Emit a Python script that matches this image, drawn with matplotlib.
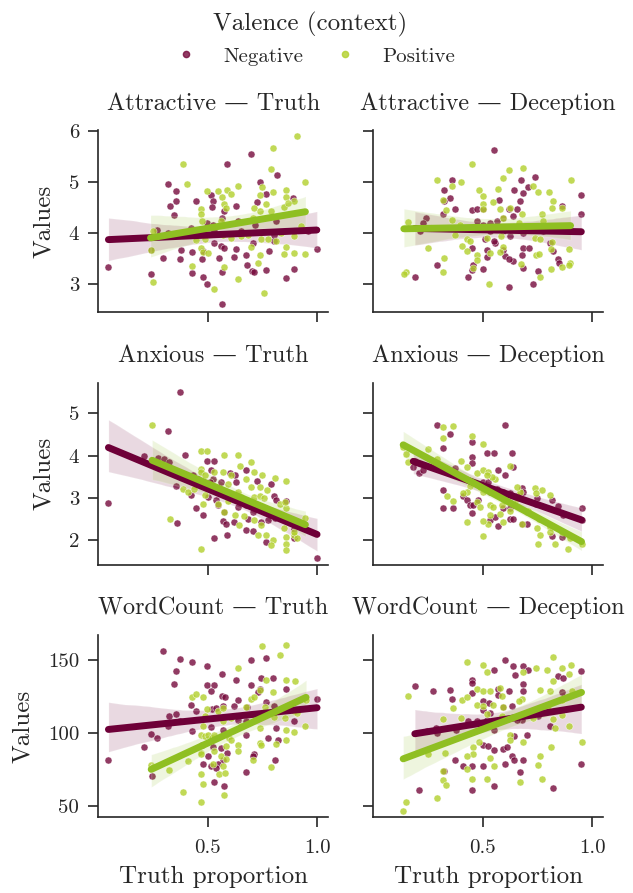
import matplotlib
matplotlib.use("Agg")
import matplotlib.pyplot as plt
import seaborn as sns
from matplotlib.lines import Line2D

sns.set_style("ticks")
plt.rcParams["font.family"] = ["cmr10", "DejaVu Serif"]
plt.rcParams["mathtext.fontset"] = "cm"
plt.rcParams["axes.unicode_minus"] = False

# (truth proportion, value) pairs
att_truth_neg = [(0.047,3.33),(0.698,5.55),(0.587,5.37),(0.816,5.14),(0.318,4.96),(0.357,4.83),(0.736,5.01),(0.356,4.64),
    (0.328,4.53),(0.348,4.36),(0.447,4.64),(0.515,4.76),(0.523,4.63),(0.518,4.51),(0.628,4.54),(0.767,4.78),(0.725,4.61),
    (0.889,4.70),(0.576,4.43),(0.565,4.30),(0.637,4.25),(0.498,4.20),(0.523,4.17),(0.269,4.07),(0.318,4.01),(0.424,4.11),
    (0.454,4.04),(0.530,4.04),(0.652,4.04),(0.713,4.17),(0.812,4.24),(0.804,3.97),(0.895,4.04),(0.956,4.04),(0.242,3.68),
    (0.295,3.51),(0.378,3.68),(0.427,3.63),(0.375,3.49),(0.477,3.66),(0.474,3.49),(0.527,3.81),(0.558,3.76),(0.573,3.72),
    (0.629,3.70),(0.619,3.53),(0.549,3.51),(0.676,3.57),(0.707,3.81),(0.777,3.66),(0.804,3.84),(0.997,3.69),(0.239,3.20),
    (0.427,3.23),(0.477,3.15),(0.497,3.01),(0.564,3.25),(0.678,3.38),(0.701,3.26),(0.710,3.24),(0.766,3.28),(0.857,3.12),
    (0.895,3.30),(0.567,2.62)]
att_truth_pos = [(0.906,5.91),(0.796,5.68),(0.386,5.36),(0.786,5.26),(0.406,4.96),(0.497,4.83),(0.546,4.83),(0.588,4.86),
    (0.606,4.78),(0.637,4.92),(0.565,4.71),(0.576,4.58),(0.470,4.47),(0.467,4.37),(0.473,4.24),(0.558,4.24),(0.746,4.91),
    (0.737,4.75),(0.798,4.82),(0.857,4.86),(0.856,4.71),(0.895,4.63),(0.767,4.57),(0.710,4.49),(0.740,4.43),(0.789,4.43),
    (0.847,4.51),(0.865,4.60),(0.945,5.01),(0.249,4.05),(0.485,3.88),(0.447,3.86),(0.568,3.97),(0.606,3.91),(0.652,3.94),
    (0.682,3.97),(0.743,3.88),(0.774,3.88),(0.812,3.84),(0.833,4.01),(0.895,3.95),(0.926,4.14),(0.239,3.68),(0.470,3.71),
    (0.477,3.64),(0.500,3.61),(0.698,3.74),(0.736,3.58),(0.857,3.74),(0.847,3.59),(0.895,3.61),(0.945,3.59),(0.728,3.41),
    (0.427,3.35),(0.576,3.33),(0.248,3.05),(0.637,3.11),(0.527,2.91),(0.758,2.82),(0.584,4.50),(0.705,4.30)]

att_dec_neg = [(0.552,5.64),(0.360,5.05),(0.324,4.85),(0.351,4.70),(0.324,4.63),(0.372,4.47),(0.321,4.37),(0.242,4.30),
    (0.229,4.20),(0.214,4.04),(0.267,4.11),(0.451,4.45),(0.473,4.47),(0.503,4.47),(0.576,4.66),(0.619,4.47),(0.655,4.47),
    (0.643,4.86),(0.682,4.80),(0.673,5.05),(0.670,4.63),(0.707,4.91),(0.740,5.11),(0.594,4.30),(0.640,4.34),(0.564,4.24),
    (0.533,4.20),(0.503,4.17),(0.473,4.24),(0.594,4.04),(0.625,3.94),(0.533,4.04),(0.511,3.88),(0.556,3.81),(0.521,3.68),
    (0.518,3.53),(0.552,3.84),(0.450,3.71),(0.454,3.37),(0.450,3.28),(0.435,3.15),(0.503,3.30),(0.602,3.55),(0.594,3.68),
    (0.640,3.46),(0.622,3.49),(0.685,3.72),(0.679,3.58),(0.713,3.71),(0.685,3.32),(0.754,3.26),(0.731,3.01),(0.622,2.94),
    (0.807,3.81),(0.819,3.66),(0.842,3.49),(0.850,3.41),(0.860,4.53),(0.950,4.75),(0.950,4.37),(0.777,4.04),(0.290,3.38),
    (0.191,3.15),(0.685,4.01)]
att_dec_pos = [(0.451,5.37),(0.290,5.05),(0.400,5.01),(0.622,5.24),(0.682,5.28),(0.591,5.09),(0.482,4.86),(0.503,4.73),
    (0.503,4.57),(0.500,4.47),(0.549,4.62),(0.571,4.87),(0.731,4.93),(0.754,4.81),(0.801,4.81),(0.819,4.64),(0.816,4.50),
    (0.901,5.05),(0.860,4.50),(0.772,4.37),(0.777,4.24),(0.678,4.37),(0.667,4.20),(0.579,4.47),(0.594,4.30),(0.625,4.49),
    (0.359,4.93),(0.321,4.66),(0.333,4.45),(0.359,4.27),(0.397,4.17),(0.161,4.22),(0.374,3.97),(0.427,3.88),(0.442,3.84),
    (0.404,3.76),(0.430,3.66),(0.473,3.58),(0.473,3.48),(0.521,3.91),(0.582,3.94),(0.594,3.74),(0.579,3.64),(0.739,3.91),
    (0.761,3.89),(0.815,3.83),(0.812,3.70),(0.892,3.70),(0.742,3.58),(0.755,3.60),(0.252,3.71),(0.324,3.51),(0.321,3.25),
    (0.153,3.25),(0.141,3.20),(0.530,3.01),(0.673,3.39),(0.761,3.15),(0.812,3.30),(0.860,3.33),(0.898,3.41),(0.892,3.37),
    (0.457,3.32),(0.533,3.61)]

anx_truth_neg = [(0.375,5.49),(0.318,4.59),(0.047,2.89),(0.397,4.02),(0.208,3.98),(0.272,3.94),(0.299,3.91),(0.321,3.84),
    (0.356,3.28),(0.432,3.55),(0.424,3.07),(0.447,2.76),(0.477,2.60),(0.497,3.86),(0.527,3.88),(0.515,3.67),(0.523,3.44),
    (0.508,3.37),(0.561,3.37),(0.599,3.59),(0.622,3.55),(0.629,3.37),(0.675,3.65),(0.725,3.41),(0.786,3.33),(0.500,3.02),
    (0.538,2.94),(0.546,2.84),(0.576,2.67),(0.568,2.45),(0.584,2.39),(0.619,2.42),(0.637,2.78),(0.675,2.82),(0.705,2.67),
    (0.685,2.51),(0.675,2.24),(0.705,2.21),(0.743,2.42),(0.774,2.47),(0.807,2.53),(0.804,3.04),(0.812,2.94),(0.857,2.92),
    (0.842,2.51),(0.895,2.27),(0.892,2.05),(0.530,2.04),(0.588,2.13),(0.360,2.41),(0.767,1.95),(0.998,1.57),(0.743,2.75),
    (0.622,2.98),(0.454,3.45)]
anx_truth_pos = [(0.246,4.71),(0.467,4.11),(0.497,4.10),(0.576,4.02),(0.637,4.02),(0.647,3.76),(0.695,3.84),(0.467,3.69),
    (0.470,3.61),(0.485,3.53),(0.530,3.61),(0.568,3.61),(0.606,3.53),(0.675,3.45),(0.710,3.61),(0.748,3.55),(0.807,3.48),
    (0.857,3.39),(0.591,3.33),(0.637,3.14),(0.698,3.25),(0.736,3.25),(0.771,3.18),(0.386,3.22),(0.409,3.14),(0.439,3.22),
    (0.485,3.06),(0.477,2.86),(0.546,2.86),(0.591,2.92),(0.652,3.02),(0.710,3.02),(0.740,3.04),(0.758,3.00),(0.827,2.86),
    (0.857,2.76),(0.850,2.90),(0.576,2.67),(0.622,2.60),(0.640,2.35),(0.667,2.57),(0.710,2.47),(0.728,2.12),(0.743,2.35),
    (0.766,2.13),(0.796,2.00),(0.789,1.88),(0.847,2.29),(0.857,2.08),(0.895,2.12),(0.907,2.04),(0.945,2.53),(0.857,1.90),
    (0.857,1.76),(0.327,2.49),(0.467,1.79),(0.895,2.20)]

anx_dec_neg = [(0.290,4.72),(0.351,4.51),(0.321,4.17),(0.602,4.71),(0.450,4.31),(0.453,3.96),(0.450,3.83),(0.518,4.05),
    (0.552,4.05),(0.632,4.05),(0.640,3.73),(0.571,3.67),(0.602,3.55),(0.191,3.88),(0.184,3.74),(0.211,3.59),(0.229,3.65),
    (0.374,3.70),(0.318,3.18),(0.321,2.75),(0.363,2.76),(0.412,3.04),(0.427,2.94),(0.442,2.82),(0.457,2.84),(0.450,2.65),
    (0.480,2.94),(0.503,3.37),(0.526,3.37),(0.511,3.25),(0.533,3.14),(0.564,3.22),(0.594,3.14),(0.625,3.12),(0.678,3.23),
    (0.682,3.14),(0.655,3.04),(0.533,2.47),(0.556,2.55),(0.571,2.34),(0.625,2.51),(0.640,2.49),(0.678,2.39),(0.701,2.39),
    (0.746,3.00),(0.743,2.86),(0.815,2.96),(0.845,2.80),(0.865,2.60),(0.951,2.75),(0.951,2.47),(0.815,2.09),(0.860,2.08),
    (0.594,2.75),(0.625,2.76)]
anx_dec_pos = [(0.321,4.67),(0.363,4.69),(0.321,4.42),(0.451,4.47),(0.503,4.27),(0.138,4.20),(0.153,4.04),(0.252,4.16),
    (0.290,3.92),(0.161,3.84),(0.400,3.86),(0.427,3.74),(0.473,3.59),(0.500,3.65),(0.526,3.62),(0.556,3.45),(0.541,3.49),
    (0.625,3.76),(0.442,3.29),(0.427,3.14),(0.412,3.12),(0.488,3.25),(0.503,3.14),(0.473,2.90),(0.488,2.78),(0.533,2.82),
    (0.587,2.84),(0.549,2.78),(0.533,2.60),(0.526,2.39),(0.594,2.43),(0.579,2.63),(0.625,2.68),(0.381,3.53),(0.336,3.04),
    (0.363,2.92),(0.430,2.43),(0.500,2.45),(0.670,3.14),(0.655,2.98),(0.708,2.68),(0.678,2.39),(0.739,3.23),(0.772,3.18),
    (0.807,3.06),(0.743,3.12),(0.758,2.51),(0.746,2.29),(0.807,2.31),(0.761,2.13),(0.807,2.20),(0.860,2.20),(0.898,2.04),
    (0.891,1.80),(0.951,1.90),(0.830,1.92),(0.751,1.90),(0.503,2.10),(0.701,2.67),(0.655,3.25),(0.518,3.53)]

wc_truth_neg = [(0.047,81.7),(0.295,156.4),(0.375,150.7),(0.427,148.9),(0.356,142.7),(0.497,145.7),(0.565,140.6),
    (0.698,149.8),(0.766,151.6),(0.345,133.8),(0.497,132.6),(0.527,132.6),(0.515,128.5),(0.565,125.6),(0.579,124.7),
    (0.637,122.8),(0.628,136.5),(0.695,132.9),(0.743,137.7),(0.798,137.7),(0.737,130.1),(0.728,127.9),(0.857,130.4),
    (0.424,119.4),(0.447,114.8),(0.518,116.4),(0.538,117.1),(0.568,118.7),(0.619,118.3),(0.679,117.8),(0.766,121.0),
    (0.804,118.7),(0.998,123.5),(0.325,111.4),(0.356,113.0),(0.375,108.0),(0.318,104.6),(0.239,99.5),(0.269,96.6),
    (0.207,90.4),(0.427,101.6),(0.515,104.1),(0.568,102.3),(0.629,111.4),(0.637,109.1),(0.675,98.9),(0.675,108.0),
    (0.774,96.6),(0.809,103.4),(0.819,95.0),(0.895,108.0),(0.473,92.0),(0.523,90.4),(0.561,89.7),(0.588,86.3),
    (0.568,81.7),(0.500,84.5),(0.477,78.8),(0.515,77.2),(0.546,79.0),(0.538,76.0),(0.710,85.8),(0.707,84.5),
    (0.807,81.7),(0.675,73.3),(0.527,66.4),(0.576,63.5),(0.246,70.3)]
wc_truth_pos = [(0.746,159.4),(0.857,160.5),(0.827,153.7),(0.637,144.5),(0.767,136.5),(0.857,136.5),(0.898,135.4),
    (0.737,129.7),(0.798,127.9),(0.698,123.3),(0.710,124.7),(0.427,124.7),(0.447,126.9),(0.477,124.4),(0.497,116.4),
    (0.546,114.8),(0.568,117.1),(0.675,117.8),(0.763,117.8),(0.804,111.0),(0.853,110.3),(0.895,114.8),(0.907,113.7),
    (0.948,122.8),(0.485,111.4),(0.477,104.6),(0.568,108.0),(0.606,110.3),(0.652,104.6),(0.736,103.4),(0.857,102.3),
    (0.895,100.5),(0.945,104.6),(0.470,98.9),(0.485,97.7),(0.503,98.9),(0.518,96.6),(0.530,98.9),(0.596,96.6),
    (0.606,95.0),(0.584,91.3),(0.637,92.0),(0.637,87.4),(0.736,93.2),(0.743,92.0),(0.812,92.7),(0.857,95.4),
    (0.470,86.3),(0.467,85.2),(0.527,87.4),(0.561,84.0),(0.584,82.2),(0.523,79.0),(0.568,77.2),(0.549,71.9),
    (0.579,72.6),(0.467,71.5),(0.477,65.3),(0.386,59.4),(0.467,52.5),(0.576,57.3),(0.705,81.7),(0.789,76.7),
    (0.325,74.4),(0.242,78.3),(0.248,76.5),(0.409,80.6)]

wc_dec_neg = [(0.191,132.4),(0.272,128.8),(0.351,129.7),(0.359,123.5),(0.450,136.5),(0.453,134.2),(0.450,127.4),
    (0.552,143.4),(0.602,150.2),(0.640,145.7),(0.682,145.7),(0.649,140.0),(0.708,143.4),(0.682,133.8),(0.682,128.5),
    (0.622,128.8),(0.571,130.4),(0.571,126.3),(0.500,122.1),(0.530,120.5),(0.503,116.0),(0.533,113.7),(0.594,117.8),
    (0.632,118.7),(0.678,111.4),(0.678,108.7),(0.655,109.1),(0.754,111.4),(0.860,127.9),(0.845,138.8),(0.868,137.7),
    (0.950,142.7),(0.807,105.0),(0.435,108.0),(0.473,108.0),(0.518,109.1),(0.287,103.4),(0.245,101.1),(0.290,100.0),
    (0.378,102.3),(0.552,101.8),(0.643,97.7),(0.701,98.9),(0.503,92.0),(0.526,90.9),(0.552,88.1),(0.594,89.0),
    (0.610,90.0),(0.632,84.0),(0.643,81.7),(0.682,81.7),(0.602,78.8),(0.500,77.6),(0.450,77.6),(0.412,77.6),
    (0.374,81.7),(0.324,73.7),(0.670,73.3),(0.211,61.2),(0.453,61.2),(0.552,63.9),(0.819,62.3),(0.950,78.8)]
wc_dec_pos = [(0.822,152.3),(0.430,148.4),(0.503,146.8),(0.521,141.6),(0.743,144.5),(0.792,143.4),(0.860,144.5),
    (0.901,146.8),(0.892,140.6),(0.819,135.4),(0.860,122.8),(0.906,128.5),(0.761,129.7),(0.807,128.5),(0.682,141.6),
    (0.579,130.8),(0.473,130.1),(0.503,129.0),(0.533,129.0),(0.587,125.6),(0.678,123.3),(0.404,122.8),(0.427,124.7),
    (0.363,117.1),(0.473,119.4),(0.503,118.3),(0.549,118.9),(0.591,117.8),(0.667,121.7),(0.161,125.6),(0.318,109.6),
    (0.400,110.3),(0.518,113.2),(0.587,111.4),(0.731,110.3),(0.799,118.7),(0.819,109.6),(0.830,103.4),(0.892,104.6),
    (0.862,112.3),(0.625,98.9),(0.625,95.0),(0.682,93.6),(0.485,93.6),(0.454,90.4),(0.454,85.2),(0.427,84.5),
    (0.427,75.3),(0.533,82.9),(0.552,77.6),(0.252,85.2),(0.328,86.3),(0.321,73.7),(0.321,68.0),(0.333,64.6),
    (0.450,68.5),(0.521,68.5),(0.670,66.4),(0.772,68.5),(0.761,84.5),(0.754,78.3),(0.812,90.4),(0.951,93.6),
    (0.150,52.5),(0.138,46.3),(0.290,55.5)]

panels = [
    ("Attractive \u2014 Truth", att_truth_neg, att_truth_pos),
    ("Attractive \u2014 Deception", att_dec_neg, att_dec_pos),
    ("Anxious \u2014 Truth", anx_truth_neg, anx_truth_pos),
    ("Anxious \u2014 Deception", anx_dec_neg, anx_dec_pos),
    ("WordCount \u2014 Truth", wc_truth_neg, wc_truth_pos),
    ("WordCount \u2014 Deception", wc_dec_neg, wc_dec_pos),
]
row_ylims = [(2.45, 6.02), (1.42, 5.72), (42.3, 167)]
row_yticks = [[3, 4, 5, 6], [2, 3, 4, 5], [50, 100, 150]]

neg_color = "#6e0038"
pos_color = "#8fbf22"
neg_point = "#760a3c"
pos_point = "#b2d02c"

fig, axes = plt.subplots(3, 2, figsize=(6.33, 8.93), dpi=100, sharex=True, sharey="row")
fig.subplots_adjust(left=0.155, right=0.953, bottom=0.085, top=0.854, wspace=0.193, hspace=0.387)

for ax, (title, neg, pos) in zip(axes.flat, panels):
    for pts, lc, pc in [(neg, neg_color, neg_point), (pos, pos_color, pos_point)]:
        xs = [p[0] for p in pts]
        ys = [p[1] for p in pts]
        sns.regplot(x=xs, y=ys, ax=ax, color=lc, truncate=True, seed=0,
                    scatter_kws=dict(s=26, color=pc, alpha=0.8, edgecolor="white", linewidths=0.4),
                    line_kws=dict(color=lc, lw=5))
    ax.set_title(title, fontsize=17.5, pad=15)
    sns.despine(ax=ax)

for r in range(3):
    axes[r, 0].set_ylim(*row_ylims[r])
    axes[r, 0].set_yticks(row_yticks[r])
    axes[r, 0].set_ylabel("Values", fontsize=18, labelpad=10)
    axes[r, 1].set_ylabel("")
axes[0, 0].set_xlim(0.0, 1.05)
axes[0, 0].set_xticks([0.5, 1.0])
for c in range(2):
    axes[2, c].set_xticklabels(["0.5", "1.0"])
    axes[2, c].set_xlabel("Truth proportion", fontsize=18, labelpad=7)

for ax in axes.flat:
    ax.tick_params(axis="y", length=7.5, width=1.2, pad=6, labelsize=15)
    ax.tick_params(axis="x", length=7.5, width=1.2, pad=8, labelsize=15)
    for s in ax.spines.values():
        s.set_linewidth(1.2)

handles = [Line2D([], [], ls="", marker="o", ms=4.5, color=neg_point, alpha=0.8),
           Line2D([], [], ls="", marker="o", ms=4.5, color=pos_point, alpha=0.8)]
fig.legend(handles, ["Negative", "Positive"], title="Valence (context)", loc="upper center",
           bbox_to_anchor=(0.49, 1.008), ncol=2, frameon=False, fontsize=15, title_fontsize=18,
           columnspacing=1.0, handletextpad=0.8)

fig.savefig("out.png", dpi=100)
